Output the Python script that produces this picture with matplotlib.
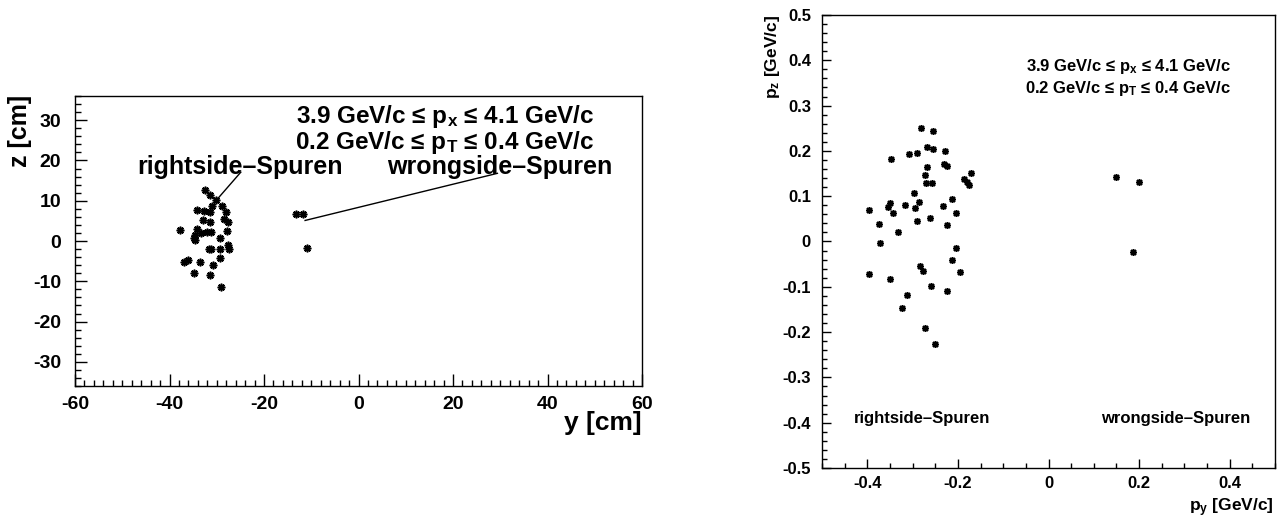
import matplotlib
matplotlib.use("Agg")
import matplotlib.pyplot as plt
from matplotlib.ticker import MultipleLocator, FuncFormatter

# ---- data ----
# left panel: track positions y [cm], z [cm]
left_y = [-32.4, -31.5, -30.1, -31.0, -31.4, -28.9, -34.1, -32.8, -28.0, -28.4,
          -27.7, -32.9, -31.4, -37.7, -34.2, -27.9, -34.7, -34.9, -34.6, -33.4,
          -32.1, -31.2, -29.4, -27.7, -27.5, -31.7, -31.2, -29.4, -29.3, -37.0,
          -36.0, -33.5, -30.7, -34.8, -31.4, -29.1, -13.2, -11.8, -10.9]
left_z = [12.6, 11.3, 10.1, 8.6, 7.3, 8.8, 7.8, 7.4, 7.1, 5.5,
          4.7, 5.1, 4.7, 2.7, 3.1, 2.6, 1.4, 0.8, 0.2, 2.1,
          2.2, 2.2, 0.8, -1.1, -1.9, -2.1, -2.1, -1.9, -4.1, -5.1,
          -4.7, -5.1, -6.0, -7.9, -8.4, -11.4, 6.6, 6.8, -1.8]

# right panel: momenta p_y, p_z [GeV/c]
right_py = [-0.281, -0.254, -0.268, -0.254, -0.228, -0.309, -0.290, -0.348, -0.231, -0.223,
            -0.268, -0.170, -0.273, -0.187, -0.181, -0.175, -0.270, -0.258, -0.296, -0.285,
            -0.214, -0.350, -0.354, -0.317, -0.295, -0.232, -0.396, -0.344, -0.204, -0.290,
            -0.261, -0.375, -0.223, -0.332, -0.372, -0.204, -0.212, -0.284, -0.278, -0.396,
            -0.195, -0.350, -0.259, -0.223, -0.313, -0.323, -0.272, -0.251,
            0.149, 0.200, 0.186]
right_pz = [0.250, 0.245, 0.208, 0.204, 0.200, 0.193, 0.195, 0.183, 0.171, 0.167,
            0.165, 0.151, 0.147, 0.137, 0.132, 0.125, 0.130, 0.130, 0.106, 0.088,
            0.093, 0.084, 0.077, 0.081, 0.075, 0.078, 0.070, 0.062, 0.064, 0.046,
            0.051, 0.039, 0.036, 0.020, -0.004, -0.015, -0.040, -0.055, -0.066, -0.072,
            -0.068, -0.083, -0.099, -0.109, -0.117, -0.147, -0.190, -0.226,
            0.142, 0.131, -0.023]

# pointer lines from the labels to the groups (left panel, data coords)
right_line_y = [-24.9, -30.1]
right_line_z = [17.1, 10.1]
wrong_line_y = [29.4, -11.3]
wrong_line_z = [16.8, 5.1]

cut_px = "3.9 GeV/c ≤ p$_\\mathregular{x}$ ≤ 4.1 GeV/c"
cut_pt = "0.2 GeV/c ≤ p$_\\mathregular{T}$ ≤ 0.4 GeV/c"

plt.rcParams["font.family"] = ["Liberation Sans", "DejaVu Sans"]
plt.rcParams["font.weight"] = "bold"
plt.rcParams["mathtext.default"] = "regular"
plt.rcParams["axes.unicode_minus"] = False

W, H = 1277, 518
fig = plt.figure(figsize=(W / 100, H / 100), dpi=100)

star = (8, 2, 0)


def px(x, y):
    # pixel position (from top-left) -> figure fraction
    return x / W, 1 - y / H


def style_axis(ax, major_len, minor_len):
    ax.tick_params(which="both", direction="in", top=False, right=False, width=1)
    ax.tick_params(which="major", length=major_len)
    ax.tick_params(which="minor", length=minor_len)
    for s in ax.spines.values():
        s.set_linewidth(1)


# ---- left panel ----
ax1 = fig.add_axes([75 / W, 1 - 386 / H, 567 / W, 290 / H])
ax1.plot(left_y, left_z, linestyle="none", marker=star, markersize=5.5,
         markeredgewidth=1.2, color="black")
ax1.plot(right_line_y, right_line_z, color="black", linewidth=1)
ax1.plot(wrong_line_y, wrong_line_z, color="black", linewidth=1)
ax1.set_xlim(-60, 60)
ax1.set_ylim(-36, 36)
ax1.xaxis.set_major_locator(MultipleLocator(20))
ax1.xaxis.set_minor_locator(MultipleLocator(2))
ax1.yaxis.set_major_locator(MultipleLocator(10))
ax1.yaxis.set_minor_locator(MultipleLocator(2))
style_axis(ax1, 8.5, 4.3)
ax1.tick_params(axis="x", labelsize=14, pad=7)
ax1.tick_params(axis="y", labelsize=14, pad=10)

fig.text(*px(594, 117), cut_px, fontsize=17.5, ha="right", va="center")
fig.text(*px(594, 142), cut_pt, fontsize=17.5, ha="right", va="center")
fig.text(*px(240, 167), "rightside–Spuren", fontsize=18, ha="center", va="center")
fig.text(*px(500, 167), "wrongside–Spuren", fontsize=18, ha="center", va="center")
fig.text(*px(20, 95), "z [cm]", fontsize=18, rotation=90, ha="center", va="top")
fig.text(*px(642, 423), "y [cm]", fontsize=19, ha="right", va="center")

# ---- right panel ----
ax2 = fig.add_axes([822 / W, 1 - 468 / H, 453 / W, 453 / H])
ax2.plot(right_py, right_pz, linestyle="none", marker=star, markersize=5,
         markeredgewidth=1.1, color="black")
ax2.set_xlim(-0.5, 0.5)
ax2.set_ylim(-0.5, 0.5)
ax2.xaxis.set_major_locator(MultipleLocator(0.2))
ax2.xaxis.set_minor_locator(MultipleLocator(0.05))
ax2.yaxis.set_major_locator(MultipleLocator(0.1))
ax2.yaxis.set_minor_locator(MultipleLocator(0.02))
fmt = FuncFormatter(lambda v, p: f"{round(v, 2):g}")
ax2.xaxis.set_major_formatter(fmt)
ax2.yaxis.set_major_formatter(fmt)
style_axis(ax2, 6.5, 3.3)
ax2.tick_params(axis="x", labelsize=12, pad=6)
ax2.tick_params(axis="y", labelsize=12, pad=8)

fig.text(*px(1231, 67), cut_px, fontsize=12, ha="right", va="center")
fig.text(*px(1231, 89), cut_pt, fontsize=12, ha="right", va="center")
fig.text(*px(854, 419), "rightside–Spuren", fontsize=12, ha="left", va="center")
fig.text(*px(1101, 419), "wrongside–Spuren", fontsize=12, ha="left", va="center")
fig.text(*px(772, 15), "p$_\\mathregular{z}$ [GeV/c]", fontsize=12.5,
         rotation=90, ha="center", va="top")
fig.text(*px(1274, 511), "p$_\\mathregular{y}$ [GeV/c]", fontsize=12.5,
         ha="right", va="baseline")

fig.savefig("out.png", dpi=100)
